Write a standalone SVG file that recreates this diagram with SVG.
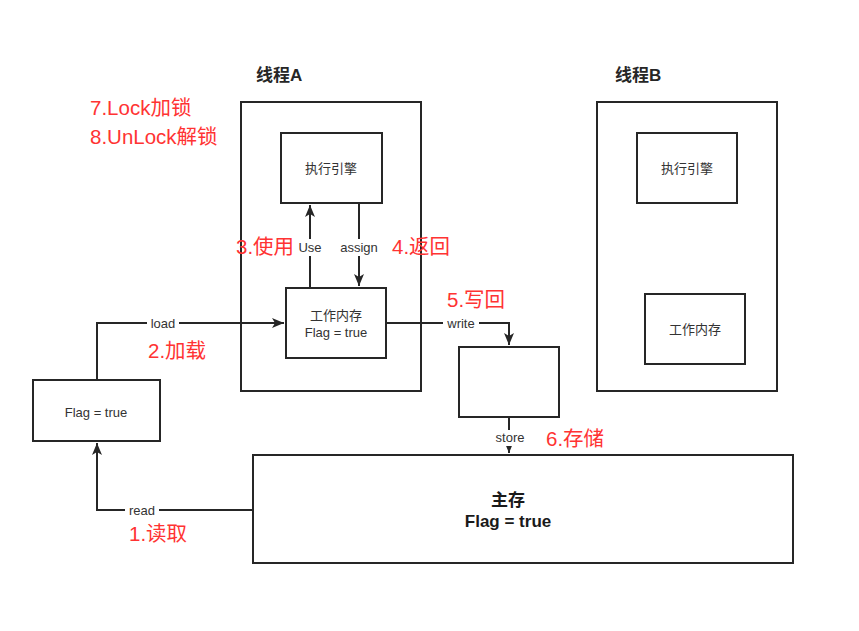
<svg xmlns="http://www.w3.org/2000/svg" width="859" height="631" viewBox="0 0 859 631">
<style>
.box{fill:#fff;stroke:#262626;stroke-width:2}
.t{font-family:"Liberation Sans","Noto Sans CJK SC",sans-serif;font-size:13px;fill:#333;text-anchor:middle}
.lbl{font-family:"Liberation Sans","Noto Sans CJK SC",sans-serif;font-size:13px;fill:#333;text-anchor:middle}
.red{font-family:"Liberation Sans","Noto Sans CJK SC",sans-serif;font-size:20.5px;fill:#ff3333}
.title{font-family:"Liberation Sans","Noto Sans CJK SC",sans-serif;font-size:17px;font-weight:bold;fill:#262626}
.main{font-family:"Liberation Sans","Noto Sans CJK SC",sans-serif;font-size:17px;font-weight:bold;fill:#1a1a1a;text-anchor:middle}
.edge{fill:none;stroke:#262626;stroke-width:2}
.bg{fill:#fff}
</style>
<defs>
<marker id="a" viewBox="0 0 12 10" refX="12" refY="5" markerWidth="12" markerHeight="10" markerUnits="userSpaceOnUse" orient="auto">
<path d="M0,0 L12,5 L0,10 L3,5 z" fill="#262626"/>
</marker>
</defs>
<rect width="859" height="631" fill="#fff"/>
<g id="threadA">
<rect class="box" x="241" y="102" width="180" height="289"/>
<text class="title" x="256" y="81">线程A</text>
</g>
<g id="threadB">
<rect class="box" x="597" y="102" width="180" height="289"/>
<text class="title" x="615" y="81">线程B</text>
</g>
<g id="engineA">
<rect class="box" x="281" y="133" width="101" height="70"/>
<text class="t" x="331" y="173">执行引擎</text>
</g>
<g id="workA">
<rect class="box" x="286" y="288" width="100" height="70"/>
<text class="t" x="336" y="320">工作内存</text>
<text class="t" x="336" y="337">Flag = true</text>
</g>
<g id="engineB">
<rect class="box" x="637" y="133" width="100" height="70"/>
<text class="t" x="687" y="173">执行引擎</text>
</g>
<g id="workB">
<rect class="box" x="645" y="294" width="100" height="70"/>
<text class="t" x="695" y="334">工作内存</text>
</g>
<g id="flagBox">
<rect class="box" x="33" y="380" width="127" height="61"/>
<text class="t" x="96" y="417">Flag = true</text>
</g>
<g id="buffer">
<rect class="box" x="459" y="347" width="100" height="70"/>
</g>
<g id="mainMem">
<rect class="box" x="253" y="455" width="540" height="108"/>
<text class="main" x="508" y="506">主存</text>
<text class="main" x="508" y="527">Flag = true</text>
</g>
<g id="connectors">
<path class="edge" d="M310,288 V205" marker-end="url(#a)"/>
<path class="edge" d="M359,203 V286" marker-end="url(#a)"/>
<path class="edge" d="M97,380 V323 H284" marker-end="url(#a)"/>
<path class="edge" d="M253,510 H97 V443" marker-end="url(#a)"/>
<path class="edge" d="M386,323 H509 V345" marker-end="url(#a)"/>
<path class="edge" d="M509,417 V453" marker-end="url(#a)"/>
<rect class="bg" x="295" y="239" width="30" height="17"/>
<text class="lbl" x="310" y="252">Use</text>
<rect class="bg" x="337" y="239" width="44" height="17"/>
<text class="lbl" x="359" y="252">assign</text>
<rect class="bg" x="147" y="316" width="32" height="16"/>
<text class="lbl" x="163" y="328">load</text>
<rect class="bg" x="125" y="503" width="34" height="16"/>
<text class="lbl" x="142" y="515">read</text>
<rect class="bg" x="443" y="316" width="36" height="16"/>
<text class="lbl" x="461" y="328">write</text>
<rect class="bg" x="491" y="430" width="38" height="16"/>
<text class="lbl" x="510" y="442">store</text>
</g>
<g id="notes">
<text class="red" x="90" y="115">7.Lock加锁</text>
<text class="red" x="90" y="144">8.UnLock解锁</text>
<text class="red" x="236" y="254">3.使用</text>
<text class="red" x="392" y="254">4.返回</text>
<text class="red" x="447" y="307">5.写回</text>
<text class="red" x="148" y="358">2.加载</text>
<text class="red" x="546" y="446">6.存储</text>
<text class="red" x="129" y="541">1.读取</text>
</g>
</svg>
